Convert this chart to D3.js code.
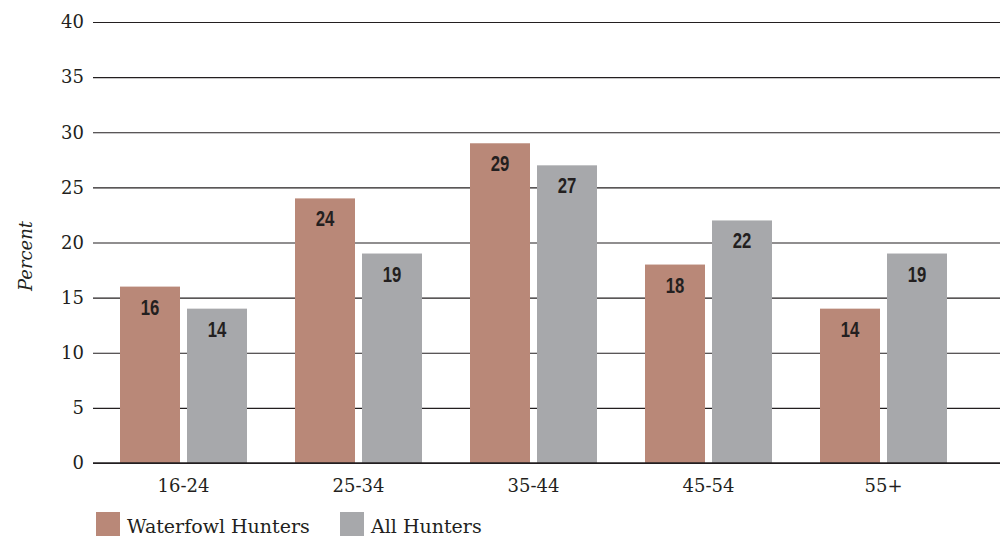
<!DOCTYPE html>
<html>
<head>
<meta charset="utf-8">
<script src="https://cdn.jsdelivr.net/npm/d3@7"></script>
<style>
  html, body { margin: 0; padding: 0; background: #fff; }
  svg { display: block; }
</style>
</head>
<body>
<svg id="chart" width="1005" height="538"></svg>
<script>
// Age groups and the share (%) of hunters in each
const ageGroups = ["16-24", "25-34", "35-44", "45-54", "55+"];
const seriesNames = ["Waterfowl Hunters", "All Hunters"];
const waterfowlHunters = [16, 24, 29, 18, 14];
const allHunters = [14, 19, 27, 22, 19];
const yTicks = [0, 5, 10, 15, 20, 25, 30, 35, 40];

const colors = { "Waterfowl Hunters": "#b98878", "All Hunters": "#a7a8ab" };
const ink = "#231f20";
const serif = "'DejaVu Serif', 'Liberation Serif', serif";
const condensed = "'Liberation Sans', Arial, sans-serif";

const rows = ageGroups.map((g, i) => ({
  group: g,
  values: [
    { key: seriesNames[0], value: waterfowlHunters[i] },
    { key: seriesNames[1], value: allHunters[i] }
  ]
}));

const svg = d3.select("#chart");

const y = d3.scaleLinear().domain([0, 40]).range([463, 22]);
const x0 = d3.scaleBand().domain(ageGroups).range([96, 971])
  .paddingInner(48 / 175).paddingOuter(24 / 175);
const x1 = d3.scaleBand().domain(seriesNames).range([0, x0.bandwidth()])
  .paddingInner(7 / 67).paddingOuter(0);

// Horizontal grid lines with tick labels on the left
const yAxis = d3.axisLeft(y).tickValues(yTicks).tickSize(-907).tickPadding(9)
  .tickFormat(d3.format("d"));
const gy = svg.append("g").attr("transform", "translate(93,0)").call(yAxis);
gy.select(".domain").remove();
gy.selectAll(".tick line").attr("stroke", ink).attr("stroke-width", 1.2);
gy.selectAll(".tick text")
  .attr("fill", ink)
  .style("font-family", serif)
  .style("font-size", "18px");

// Bars
const groups = svg.append("g").selectAll("g")
  .data(rows).join("g")
  .attr("transform", d => `translate(${x0(d.group)},0)`);

groups.selectAll("rect")
  .data(d => d.values).join("rect")
  .attr("x", d => x1(d.key))
  .attr("y", d => y(d.value))
  .attr("width", x1.bandwidth())
  .attr("height", d => y(0) - y(d.value))
  .attr("fill", d => colors[d.key]);

// Value labels in a condensed bold face (horizontally squeezed)
groups.selectAll("text")
  .data(d => d.values).join("text")
  .attr("transform", d =>
    `translate(${x1(d.key) + x1.bandwidth() / 2},${y(d.value) + 28}) scale(0.76,1)`)
  .attr("text-anchor", "middle")
  .attr("fill", ink)
  .style("font-family", condensed)
  .style("font-weight", "bold")
  .style("font-size", "22px")
  .text(d => d.value);

// Baseline drawn over the bar bottoms
svg.append("line")
  .attr("x1", 93).attr("x2", 1000)
  .attr("y1", y(0)).attr("y2", y(0))
  .attr("stroke", ink).attr("stroke-width", 1.5);

// Category labels
const xAxis = d3.axisBottom(x0).tickSize(0).tickPadding(16);
const gx = svg.append("g").attr("transform", `translate(0,${y(0)})`).call(xAxis);
gx.select(".domain").remove();
gx.selectAll(".tick text")
  .attr("fill", ink)
  .style("font-family", serif)
  .style("font-size", "18px");

// Y-axis title
svg.append("text")
  .attr("transform", "translate(32,256) rotate(-90)")
  .attr("text-anchor", "middle")
  .attr("fill", ink)
  .style("font-family", serif)
  .style("font-style", "italic")
  .style("font-size", "18px")
  .text("Percent");

// Legend
const legendX = [96, 340];
const legend = svg.append("g").selectAll("g")
  .data(seriesNames).join("g")
  .attr("transform", (d, i) => `translate(${legendX[i]},512)`);
legend.append("rect")
  .attr("width", 24).attr("height", 24)
  .attr("fill", d => colors[d]);
legend.append("text")
  .attr("x", 31).attr("y", 21)
  .attr("fill", ink)
  .style("font-family", serif)
  .style("font-size", "19px")
  .text(d => d);
</script>
</body>
</html>
